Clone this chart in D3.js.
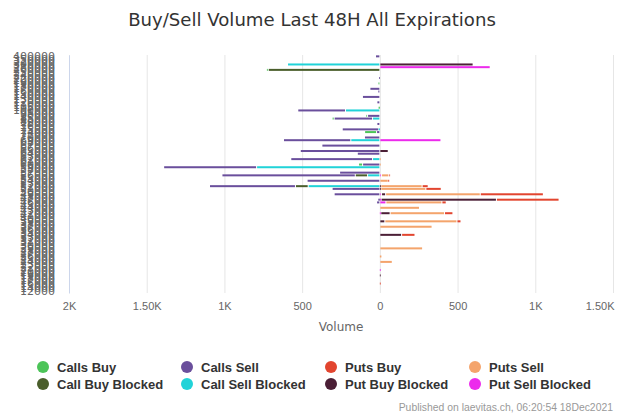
<!DOCTYPE html>
<html><head><meta charset="utf-8">
<script src="https://cdn.jsdelivr.net/npm/d3@7"></script>
<style>body{margin:0;background:#fff}svg{display:block;font-family:"Liberation Sans",Arial,Helvetica,sans-serif}</style>
</head><body><svg id="c" width="624" height="416"></svg>
<script>
// ---- data ----
const strikes = [400000,350000,320000,300000,280000,260000,250000,240000,220000,200000,
  190000,180000,170000,160000,150000,140000,130000,120000,110000,105000,
  100000,95000,90000,85000,80000,78000,76000,75000,74000,72000,
  70000,69000,68000,67000,66000,65000,64000,63000,62000,61000,
  60000,59000,58000,57000,56000,55000,54000,53000,52000,51000,
  50000,49000,48000,47000,46000,45000,44000,43000,42000,41000,
  40000,39000,38000,37000,36000,35000,34000,33000,32000,31000,
  30000,29000,28000,27000,26000,25000,24000,23000,22000,21000,
  20000,19000,18000,17000,16000,15000,14000,12000];

// [strike, volume]
const callsBuy = [[260000,12],[190000,12],[105000,8],[90000,11],[85000,13],[74000,77],[60000,26]];
const callsSell = [[400000,28],[220000,5],[170000,64],[160000,13],[140000,112],[120000,19],
  [100000,307],[90000,79],[85000,247],[78000,19],[75000,234],[74000,21],[70000,99],[69000,433],
  [67000,373],[65000,512],[64000,145],[62000,526],[60000,111],[59000,598],[57000,259],[56000,858],
  [54000,468],[52000,553],[51000,307],[49000,294],[47000,10],[46000,21]];
const putsBuy = [[56000,11],[54000,6],[52000,39],[51000,99],[49000,406],[47000,403],[46000,28],
  [42000,54],[39000,26],[34000,86],[16000,3]];
const putsSell = [[62000,5],[60000,5],[56000,47],[54000,54],[52000,266],[51000,290],[49000,609],
  [46000,360],[44000,255],[42000,350],[39000,464],[37000,336],[29000,275],[26000,10],[24000,80]];
const callBuyBlocked = [[260000,718],[56000,79],[52000,82]];
const callSellBlocked = [[300000,594],[100000,221],[85000,47],[75000,8],[69000,187],[62000,47],
  [59000,793],[56000,79],[52000,461]];
const putBuyBlocked = [[300000,600],[65000,54],[52000,6],[51000,6],[49000,26],[47000,742],
  [42000,60],[39000,32],[34000,140],[19000,4]];
const putSellBlocked = [[280000,710],[69000,393],[56000,11],[49000,11],[47000,8],[46000,39],
  [42000,6],[21000,3]];

const xTicks = [-2000,-1500,-1000,-500,0,500,1000,1500];

const series = [
  {key:"callsBuy", name:"Calls Buy", color:"#4cc458", data:callsBuy, sign:-1},
  {key:"callsSell", name:"Calls Sell", color:"#6a4f9c", data:callsSell, sign:-1},
  {key:"putsBuy", name:"Puts Buy", color:"#e2452f", data:putsBuy, sign:1},
  {key:"putsSell", name:"Puts Sell", color:"#f4a46c", data:putsSell, sign:1},
  {key:"callBuyBlocked", name:"Call Buy Blocked", color:"#4a5e2b", data:callBuyBlocked, sign:-1},
  {key:"callSellBlocked", name:"Call Sell Blocked", color:"#21d3d8", data:callSellBlocked, sign:-1},
  {key:"putBuyBlocked", name:"Put Buy Blocked", color:"#4b1f36", data:putBuyBlocked, sign:1},
  {key:"putSellBlocked", name:"Put Sell Blocked", color:"#ec2bec", data:putSellBlocked, sign:1}
];

(function(){
const table = strikes.map(s => {
  const row = {strike: String(s)};
  series.forEach(se => { row[se.key] = 0; });
  return row;
});
const idx = new Map(strikes.map((s,i)=>[s,i]));
series.forEach(se => se.data.forEach(([s,v]) => { table[idx.get(s)][se.key] = se.sign*v; }));

const stackOrder = ["putSellBlocked","putBuyBlocked","callSellBlocked","callBuyBlocked",
                    "putsSell","putsBuy","callsSell","callsBuy"];
const stacked = d3.stack().keys(stackOrder).offset(d3.stackOffsetDiverging)(table);
const colorOf = Object.fromEntries(series.map(s=>[s.key,s.color]));

const svg = d3.select("#c");
const pTop = 55, pBottom = 293, pLeft = 69, pRight = 613;
const x = d3.scaleLinear().domain([-2000,1500]).range([pLeft,pRight]);
const y = d3.scaleBand().domain(strikes.map(String)).range([pTop,pBottom]).paddingInner(0.26).paddingOuter(0.13);

const title = svg.append("text").attr("x",312).attr("y",26).attr("text-anchor","middle")
  .attr("font-family","DejaVu Sans").attr("font-size",17).attr("fill","#333")
  .text("Buy/Sell Volume Last 48H All Expirations");
const tw = title.node().getComputedTextLength();
if (tw > 0) title.attr("font-size", Math.min(19, 17*368/tw));

const grid = svg.append("g").attr("transform",`translate(0,${pBottom})`)
  .call(d3.axisBottom(x).tickValues(xTicks).tickSize(-(pBottom-pTop)).tickFormat(""));
grid.select(".domain").remove();
grid.selectAll("line").attr("stroke","#e6e6e6").attr("stroke-width",1);

const fmt = v => { const a = Math.abs(v); if (a >= 1000) { return (a % 1000 === 0 ? a/1000 : (a/1000).toFixed(2)) + "K"; } return String(a); };
const xa = svg.append("g").attr("transform",`translate(0,${pBottom})`)
  .call(d3.axisBottom(x).tickValues(xTicks).tickSize(0).tickPadding(9).tickFormat(fmt));
xa.select(".domain").remove();
xa.selectAll("text").attr("font-size",11).attr("fill","#666").attr("font-family",null);
xa.selectAll(".tick").filter(d=>d===1500).select("text").attr("text-anchor","end").attr("x",1);
svg.append("text").attr("x",341).attr("y",331).attr("text-anchor","middle")
  .attr("font-family","DejaVu Sans").attr("font-size",12).attr("fill","#666").text("Volume");

const ya = svg.append("g").attr("transform",`translate(${pLeft},0)`)
  .call(d3.axisLeft(y).tickSize(0).tickPadding(14));
ya.select(".domain").attr("stroke","#ccd6eb");
ya.selectAll("text").attr("font-size",11).attr("fill","#666").attr("font-family","DejaVu Sans");

const bars = svg.append("g");
stacked.forEach(layer => {
  bars.append("g").attr("fill",colorOf[layer.key])
    .selectAll("rect").data(layer.filter(d=>d[1]-d[0]!==0)).join("rect")
    .attr("y", d=>y(d.data.strike))
    .attr("height", y.bandwidth())
    .attr("x", d=>{ const a=x(Math.min(d[0],d[1])), b=x(Math.max(d[0],d[1])); return (b-a>1.6)? a+0.5 : a; })
    .attr("width", d=>{ const a=x(Math.min(d[0],d[1])), b=x(Math.max(d[0],d[1])); return (b-a>1.6)? b-a-1 : Math.max(b-a,0.8); });
});

const lg = svg.append("g");
series.forEach((s,i)=>{
  const col = i%4, row = Math.floor(i/4);
  const gx = 43 + col*144, gy = 367 + row*17;
  lg.append("circle").attr("cx",gx).attr("cy",gy).attr("r",6).attr("fill",s.color);
  lg.append("text").attr("x",gx+14).attr("y",gy+4.5).attr("font-size",13).attr("font-weight","bold")
    .attr("fill","#333").text(s.name);
});

svg.append("text").attr("x",613).attr("y",411).attr("text-anchor","end").attr("font-size",10.4)
  .attr("fill","#999").text("Published on laevitas.ch, 06:20:54 18Dec2021");
})();
</script></body></html>
